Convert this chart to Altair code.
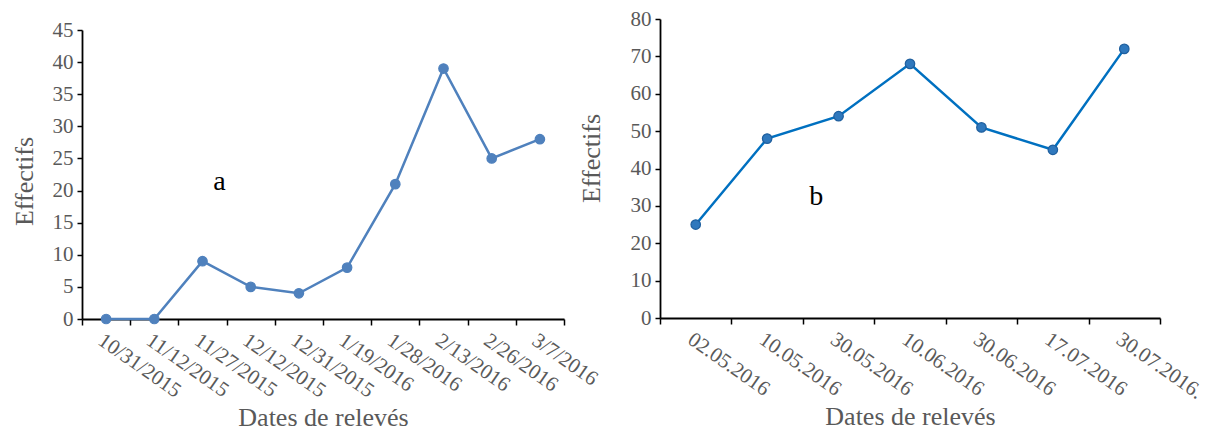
import altair as alt
import pandas as pd

# Panel a: counts per survey date, autumn-winter 2015-2016
dates_a = ["10/31/2015", "11/12/2015", "11/27/2015", "12/12/2015", "12/31/2015",
           "1/19/2016", "1/28/2016", "2/13/2016", "2/26/2016", "3/7/2016"]
counts_a = [0, 0, 9, 5, 4, 8, 21, 39, 25, 28]

# Panel b: counts per survey date, spring-summer 2016
dates_b = ["02.05.2016", "10.05.2016", "30.05.2016", "10.06.2016",
           "30.06.2016", "17.07.2016", "30.07.2016."]
counts_b = [25, 48, 54, 68, 51, 45, 72]

df_a = pd.DataFrame({"date": dates_a, "n": counts_a})
df_b = pd.DataFrame({"date": dates_b, "n": counts_b})

FONT = "Liberation Serif"
GREY = "#595959"


def panel(df, dates, ymax, ystep, width, height, yrange, ytitle_pad, ytitle_y,
          line_color, fill, stroke, letter, letter_date, letter_dx, letter_y):
    x = alt.X(
        "date:N", sort=dates,
        scale=alt.Scale(paddingInner=0, paddingOuter=0),
        axis=alt.Axis(
            title="Dates de relevés", titleY=106, titleBaseline="alphabetic",
            labelFontSize=21, labelAngle=35,
            labelAlign="left", labelBaseline="top", labelPadding=4, labelOverlap=False,
            labelFlush=False, labelBound=False,
            tickBand="extent", ticks=True, tickSize=6,
        ),
    )
    if yrange is not None:
        yscale = alt.Scale(domain=[0, ymax], nice=False, zero=True, range=yrange)
    else:
        yscale = alt.Scale(domain=[0, ymax], nice=False, zero=True)
    y = alt.Y(
        "n:Q",
        scale=yscale,
        axis=alt.Axis(
            title="Effectifs", titlePadding=ytitle_pad, titleY=ytitle_y,
            labelFontSize=21, labelPadding=4,
            values=list(range(0, ymax + 1, ystep)), labelFlush=False,
            tickSize=5,
        ),
    )
    base = alt.Chart(df)
    line = base.mark_line(color=line_color, strokeWidth=2.5).encode(x=x, y=y)
    pts = base.mark_point(filled=True, size=90, color=fill, stroke=stroke,
                          strokeWidth=1.2, opacity=1).encode(x=x, y=y)
    # panel letter placed in data space
    lab = alt.Chart(pd.DataFrame({"date": [letter_date], "n": [letter_y], "t": [letter]})).mark_text(
        font=FONT, fontSize=28, color="black", dx=letter_dx, baseline="middle"
    ).encode(x=x, y=y, text="t:N")
    return alt.layer(line, pts, lab).properties(width=width, height=height)


chart_a = panel(df_a, dates_a, 45, 5, 482, 300, [300, 11], 15, 162,
                "#4F81BD", "#4F81BD", "#4F81BD", "a", "11/27/2015", 17, 21.3)
chart_b = panel(df_b, dates_b, 80, 10, 500, 299, None, 26, 139,
                "#0070C0", "#2f78bd", "#1f5f9e", "b", "10.05.2016", 49, 32.5)

chart = (
    alt.hconcat(chart_a, chart_b, spacing=96, bounds="flush")
    .properties(padding={"left": 10, "top": 7, "right": 5, "bottom": 0})
    .configure(background="white", font=FONT)
    .configure_view(stroke="transparent")
    .configure_axis(
        labelFont=FONT, titleFont=FONT, labelColor=GREY, titleColor=GREY,
        titleFontSize=26, titleFontWeight="normal",
        domainColor="black", domainWidth=1.8, tickColor="black", tickWidth=1.5,
        grid=False,
    )
)

chart.save("out.html", embed_options={"renderer": "svg", "actions": False})
